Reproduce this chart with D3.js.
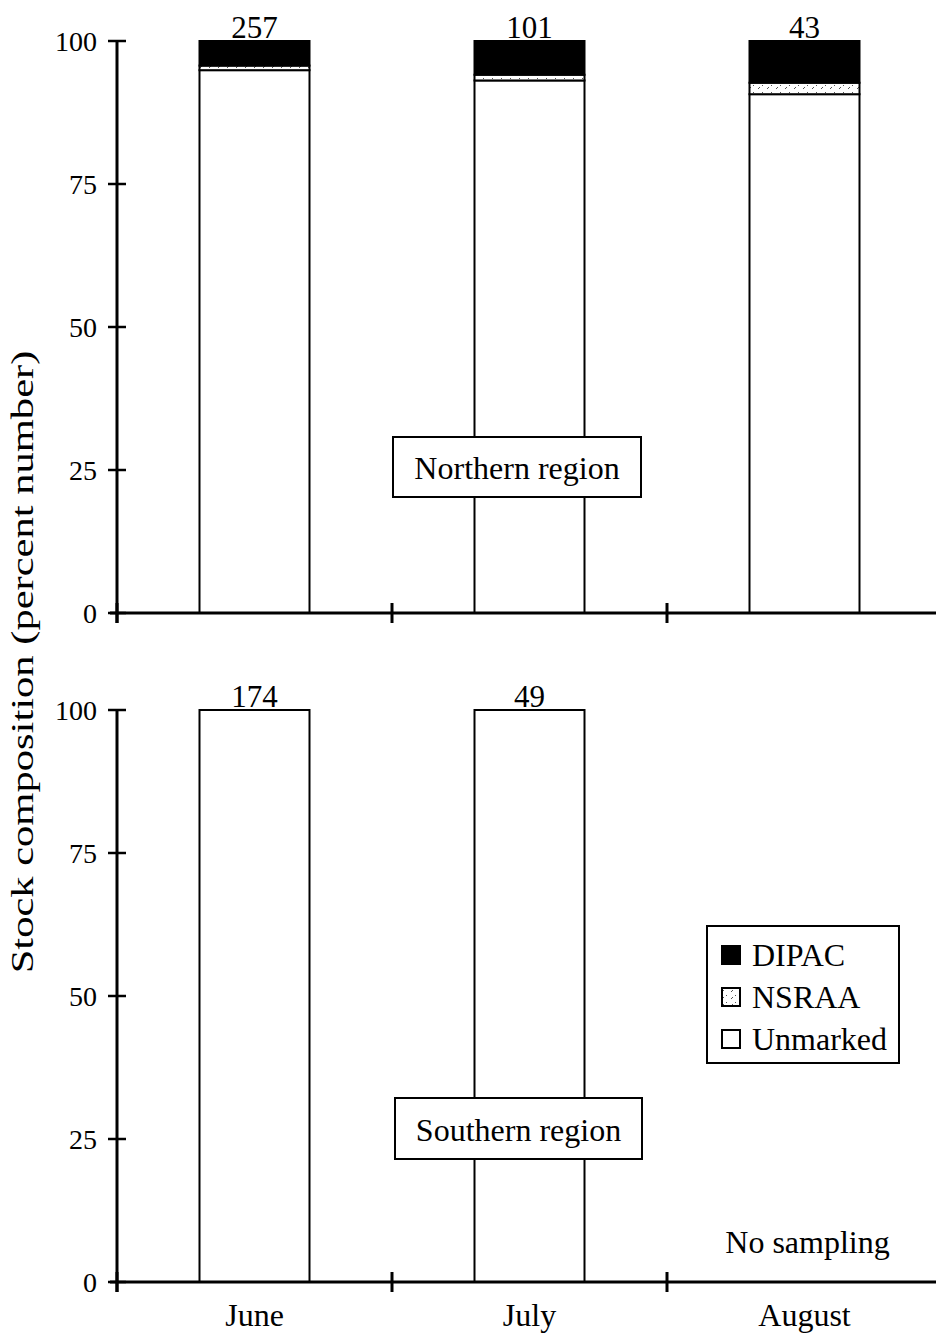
<!DOCTYPE html>
<html><head><meta charset="utf-8">
<script src="https://cdn.jsdelivr.net/npm/d3@7"></script>
<style>body{margin:0;background:#fff}svg{display:block}text{font-family:"Liberation Serif","Times New Roman",serif;fill:#000}</style>
</head><body>
<script>
const months = ["June", "July", "August"];
const stocks = ["Unmarked", "NSRAA", "DIPAC"];
const yTicks = [0, 25, 50, 75, 100];
// Northern region percentages
const northUnmarked = [94.9, 93.1, 90.7];
const northNSRAA = [0.8, 1.0, 2.0];
const northDIPAC = [4.3, 5.9, 7.3];
const northN = ["257", "101", "43"];
// Southern region percentages (no August sampling)
const southUnmarked = [100, 100, null];
const southNSRAA = [0, 0, null];
const southDIPAC = [0, 0, null];
const southN = ["174", "49", null];

const W = 936, H = 1336;
const svg = d3.select("body").append("svg").attr("width", W).attr("height", H);
const defs = svg.append("defs");
const pat = defs.append("pattern").attr("id", "nsraa").attr("patternUnits", "userSpaceOnUse")
  .attr("width", 9).attr("height", 7);
pat.append("rect").attr("width", 9).attr("height", 7).attr("fill", "#fff");
pat.append("path").attr("d", "M2,5 L4,3 M6,2 L7,1").attr("stroke", "#555").attr("stroke-width", 1);

const x = d3.scaleBand().domain(months).range([117, 942]).paddingInner(0.6).paddingOuter(0.3);
const xEdges = d3.scalePoint().domain([0, 1, 2, 3]).range([117, 942]);
const colors = { DIPAC: "#000", NSRAA: "url(#nsraa)", Unmarked: "#fff" };
const LBL = 32;

function panel(y0, y1, unm, nsr, dip, nlab, regionLabel, box) {
  const y = d3.scaleLinear().domain([0, 100]).range([y1, y0]);
  const g = svg.append("g");
  const rows = months.map((m, i) => ({ m, Unmarked: unm[i], NSRAA: nsr[i], DIPAC: dip[i], n: nlab[i] }))
    .filter(d => d.Unmarked !== null);
  const st = d3.stack().keys(stocks)(rows);
  st.forEach(layer => {
    g.append("g").selectAll("rect").data(layer.filter(d => d[1] - d[0] > 0)).join("rect")
      .attr("x", d => x(d.data.m)).attr("width", x.bandwidth())
      .attr("y", d => y(d[1])).attr("height", d => y(d[0]) - y(d[1]))
      .attr("fill", colors[layer.key]).attr("stroke", "#000").attr("stroke-width", 2);
  });
  g.selectAll("text.n").data(rows).join("text").attr("class", "n")
    .attr("x", d => x(d.m) + x.bandwidth() / 2).attr("y", y(100) - 3)
    .attr("text-anchor", "middle").attr("font-size", 31).text(d => d.n);
  // y axis
  const ya = g.append("g").attr("transform", `translate(117,0)`)
    .call(d3.axisLeft(y).tickValues(yTicks).tickSize(0).tickPadding(20));
  ya.select(".domain").remove();
  ya.selectAll("text").attr("font-size", 28).attr("font-family", "Liberation Serif").attr("dy", "0.35em");
  g.append("line").attr("x1", 117).attr("x2", 117).attr("y1", y(100)).attr("y2", y(0) + 10)
    .attr("stroke", "#000").attr("stroke-width", 3);
  g.selectAll("line.yt").data(yTicks).join("line").attr("class", "yt")
    .attr("x1", 108).attr("x2", 126).attr("y1", d => y(d)).attr("y2", d => y(d))
    .attr("stroke", "#000").attr("stroke-width", 2.5);
  // x axis
  g.append("line").attr("x1", 110).attr("x2", W).attr("y1", y(0)).attr("y2", y(0))
    .attr("stroke", "#000").attr("stroke-width", 3);
  g.selectAll("line.xt").data([0, 1, 2, 3]).join("line").attr("class", "xt")
    .attr("x1", d => xEdges(d)).attr("x2", d => xEdges(d)).attr("y1", y(0) - 10).attr("y2", y(0) + 10)
    .attr("stroke", "#000").attr("stroke-width", 3);
  // region box
  g.append("rect").attr("x", box[0]).attr("y", box[1]).attr("width", box[2]).attr("height", box[3])
    .attr("fill", "#fff").attr("stroke", "#000").attr("stroke-width", 2);
  g.append("text").attr("x", box[0] + box[2] / 2).attr("y", box[1] + box[3] / 2 + 12)
    .attr("text-anchor", "middle").attr("font-size", LBL).text(regionLabel);
  return y;
}

panel(41, 613, northUnmarked, northNSRAA, northDIPAC, northN, "Northern region", [393, 437, 248, 60]);
const yS = panel(710, 1282, southUnmarked, southNSRAA, southDIPAC, southN, "Southern region", [395, 1098, 247, 61]);

svg.append("text").attr("x", x("August") + x.bandwidth() / 2 + 3).attr("y", yS(0) - 29)
  .attr("text-anchor", "middle").attr("font-size", LBL).text("No sampling");

// month labels
svg.selectAll("text.month").data(months).join("text").attr("class", "month")
  .attr("x", d => x(d) + x.bandwidth() / 2).attr("y", 1326)
  .attr("text-anchor", "middle").attr("font-size", LBL).text(d => d);

// y title (glyphs stretched along their length, as in the reference)
svg.append("text").attr("transform", "translate(33,662) rotate(-90) scale(1.33,1)")
  .attr("text-anchor", "middle").attr("font-size", 32)
  .text("Stock composition (percent number)");

// legend
const lg = svg.append("g");
lg.append("rect").attr("x", 707).attr("y", 926).attr("width", 192).attr("height", 137)
  .attr("fill", "#fff").attr("stroke", "#000").attr("stroke-width", 2);
const legOrder = ["DIPAC", "NSRAA", "Unmarked"];
legOrder.forEach((k, i) => {
  const cy = 955 + i * 42;
  lg.append("rect").attr("x", 722).attr("y", cy - 9).attr("width", 18).attr("height", 18)
    .attr("fill", colors[k]).attr("stroke", "#000").attr("stroke-width", 2);
  lg.append("text").attr("x", 752).attr("y", cy + 11).attr("font-size", LBL).text(k);
});
</script>
</body></html>
